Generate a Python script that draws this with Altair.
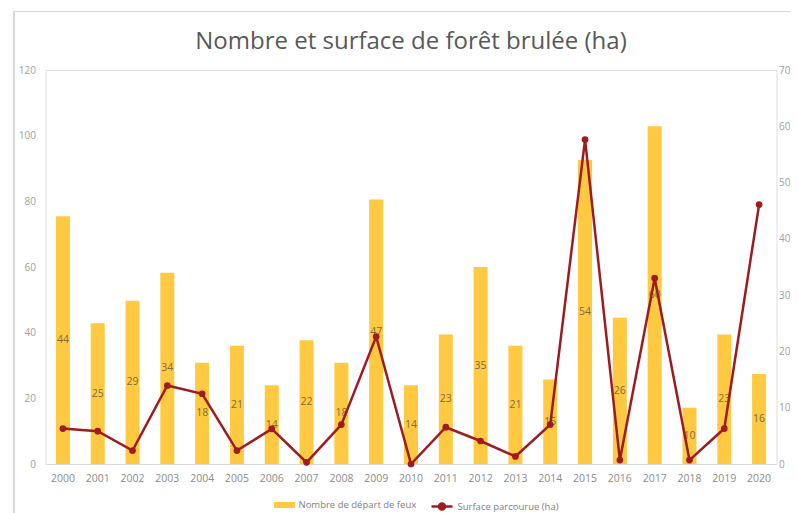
import altair as alt
import pandas as pd

years = [str(y) for y in range(2000, 2021)]
nb_feux = [44, 25, 29, 34, 18, 21, 14, 22, 18, 47, 14, 23, 35, 21, 15, 54, 26, 60, 10, 23, 16]
surface = [10.8, 10.0, 4.1, 23.9, 21.4, 4.1, 10.7, 0.5, 12.0, 38.8, 0.0, 11.2, 7.0, 2.3, 12.0,
           98.8, 1.2, 56.6, 1.2, 10.8, 79.0]

S1 = "Nombre de départ de feux"
S2 = "Surface parcourue (ha)"
BAR_C = "#FFCA41"
LINE_C = "#9E1B20"
FONT = "Open Sans"

df = pd.DataFrame({"annee": years, "nb": nb_feux, "surf": surface})

x = alt.X("annee:N", title=None, sort=years,
          scale=alt.Scale(paddingInner=0.6, paddingOuter=0.3),
          axis=alt.Axis(labelAngle=0, ticks=False, domainColor="#d9d9d9",
                        labelColor="#8c8c8c", labelFontSize=10.5, labelPadding=9,
                        labelFont=FONT))

bar_legend = alt.Legend(
    orient="none", legendX=234, legendY=430, title=None, labelFont=FONT,
    labelFontSize=9.5, labelColor="#7f7f7f", symbolSize=100, labelOffset=9,
    symbolType="M-2.1,-0.6H2.1V0.6H-2.1Z", symbolStrokeWidth=0, symbolOpacity=1)
line_legend = alt.Legend(
    orient="none", legendX=390, legendY=430, title=None, labelFont=FONT,
    labelFontSize=9.5, labelColor="#7f7f7f", symbolSize=100, labelOffset=9,
    symbolType="M-2.1,0H2.1M0.6,0A0.6,0.6,0,1,1,-0.6,0A0.6,0.6,0,1,1,0.6,0",
    symbolStrokeWidth=2.5, symbolFillColor=LINE_C, symbolOpacity=1)

bar_axis = alt.Axis(orient="right", values=list(range(0, 71, 10)), grid=False,
                    ticks=False, domain=False, labelColor="#a0a0a0",
                    labelFontSize=10, labelPadding=2, labelFont=FONT)
line_axis = alt.Axis(orient="left", values=list(range(0, 121, 20)), grid=False,
                     ticks=False, domain=False, labelColor="#a0a0a0",
                     labelFontSize=10, labelPadding=10, labelFont=FONT)
bar_scale = alt.Scale(domain=[0, 70], nice=False)
line_scale = alt.Scale(domain=[0, 120], nice=False)

bars = alt.Chart(df).mark_bar(size=14).encode(
    x=x, y=alt.Y("nb:Q", scale=bar_scale, axis=bar_axis, title=None),
    fill=alt.Fill("s:N", scale=alt.Scale(domain=[S1], range=[BAR_C]), legend=bar_legend),
).transform_calculate(s="'" + S1 + "'")

labels = alt.Chart(df).mark_text(font=FONT, fontSize=10.5, color="#7d6c3c").encode(
    x=x,
    y=alt.Y("mid:Q", scale=bar_scale, axis=bar_axis, title=None),
    text="nb:Q",
).transform_calculate(mid="datum.nb / 2")

bar_layer = alt.layer(bars, labels)

line = alt.Chart(df).mark_line(strokeWidth=2.5).encode(
    x=x, y=alt.Y("surf:Q", scale=line_scale, axis=line_axis, title=None),
    stroke=alt.Stroke("s:N", scale=alt.Scale(domain=[S2], range=[LINE_C]), legend=line_legend),
).transform_calculate(s="'" + S2 + "'")

pts = alt.Chart(df).mark_circle(size=45, color=LINE_C, opacity=1).encode(
    x=x, y=alt.Y("surf:Q", scale=line_scale, axis=line_axis, title=None),
)

line_layer = alt.layer(line, pts)

border_left = alt.Chart(df).mark_rule(color="#d9d9d9", strokeWidth=1).encode(
    x=alt.value(-31.5), y=alt.value(-59), y2=alt.value(460))
border_top = alt.Chart(df).mark_rule(color="#d9d9d9", strokeWidth=1).encode(
    x=alt.value(-31.5), x2=alt.value(760), y=alt.value(-58.5))

chart = alt.layer(bar_layer, line_layer, border_left, border_top).resolve_scale(
    y="independent"
).properties(
    width=731, height=394,
    title=alt.Title("Nombre et surface de forêt brulée (ha)", font=FONT, fontSize=24,
                    fontWeight="normal", color="#595959", offset=14, dy=57,
                    anchor="middle", frame="group"),
    autosize=alt.AutoSizeParams(type="none"),
    padding={"left": 37.5, "top": 62, "right": 13.5, "bottom": 49},
).configure_view(stroke="transparent", strokeWidth=0).configure(background="white")

chart.save("out.html", embed_options={"renderer": "svg", "actions": False})
